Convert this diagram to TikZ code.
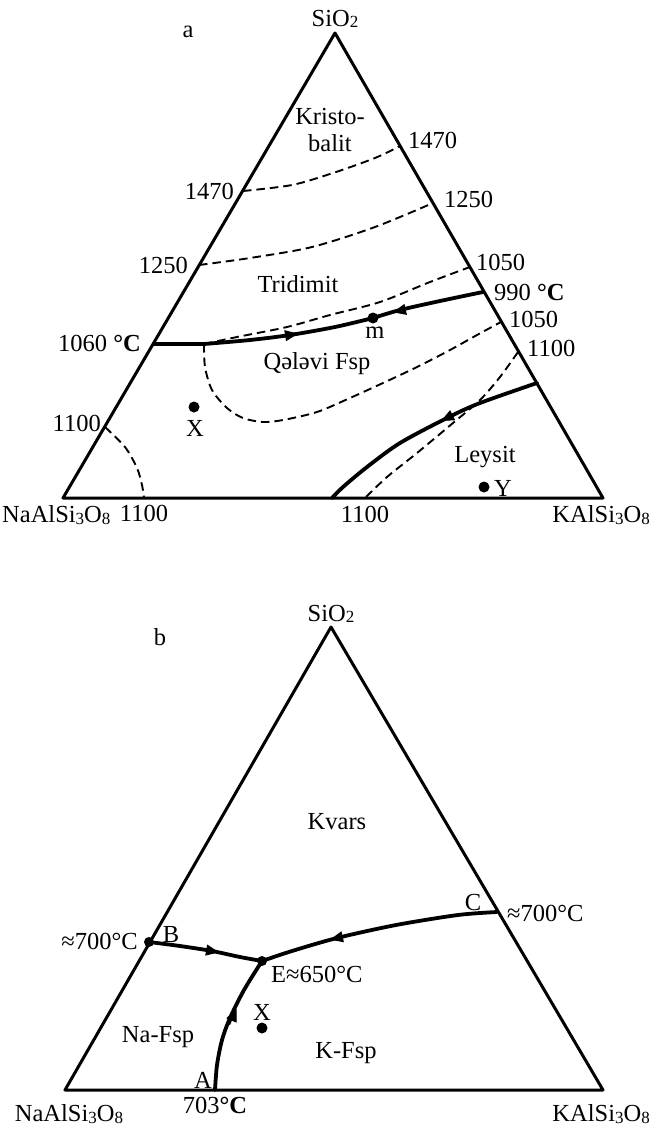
\documentclass[tikz,border=0pt]{standalone}
\usepackage{fontspec}
\setmainfont{Liberation Serif}
\usetikzlibrary{arrows.meta}
\newcommand\lowsub[1]{\raisebox{-1.5pt}{\fontsize{17}{17}\selectfont #1}}
\newcommand\degC{\textbf{°C}}
\tikzset{
  tri/.style={line width=3pt, line join=round},
  bound/.style={line width=3.8pt, line cap=round, line join=round},
  dsh/.style={line width=1.9pt, dash pattern=on 8.5pt off 5pt},
  lbl/.style={inner sep=0pt, font=\fontsize{24.5}{27}\selectfont},
  dot/.style={circle, fill=black, inner sep=0pt, minimum size=11pt},
  sdot/.style={circle, fill=black, inner sep=0pt, minimum size=10pt},
  midarrow/.style={line width=1pt, -{Triangle[length=13pt,width=11pt]}},
}
\begin{document}
\begin{tikzpicture}[x=1pt,y=-1pt]
\useasboundingbox (0,0) rectangle (651,1127);
% ================= diagram a =================
\coordinate (Ta) at (335,33);
\coordinate (La) at (63,498);
\coordinate (Ra) at (603,498);
\draw[tri] (Ta) -- (La) -- (Ra) -- cycle;
% points on the sides
\coordinate (p1470L) at (243,191);
\coordinate (p1470R) at (400,146);
\coordinate (p1250L) at (199,265);
\coordinate (p1250R) at (433,203);
\coordinate (p1050R) at (470,267);
\coordinate (p990) at (483,292);
\coordinate (p1060) at (154,344);
\coordinate (J) at (204,344);
\coordinate (p1050Rb) at (501,322);
\coordinate (p1100R) at (518,352);
\coordinate (pLeyR) at (537,383);
\coordinate (p1100L) at (105,427);
\coordinate (b1100L) at (144,498);
\coordinate (bLey) at (332,498);
\coordinate (b1100R) at (365,498);
\node[dot] (m) at (373,318) {};
% dashed isotherms
\draw[dsh] plot[smooth] coordinates {(p1470L) (292,185) (333,173) (375,158) (p1470R)};
\draw[dsh] plot[smooth] coordinates {(p1250L) (250,258) (312,247) (375,227) (p1250R)};
\draw[dsh] plot[smooth] coordinates {(J) (237,337) (287,327) (330,315) (380,302) (430,282) (p1050R)};
\draw[dsh] plot[smooth] coordinates {(J) (205,367) (212,390) (227,408) (243,418) (263,422) (283,420) (317,412) (350,398) (383,383) (417,367) (450,350) (477,335) (p1050Rb)};
\draw[dsh] plot[smooth] coordinates {(p1100L) (125,447) (137,468) (142,485) (b1100L)};
\draw[dsh] plot[smooth] coordinates {(p1100R) (500,377) (480,400) (453,423) (417,453) (387,477) (b1100R)};
% solid boundaries
\draw[bound] (p1060) -- (J);
\draw[bound] plot[smooth] coordinates {(J) (250,340) (290,335) (335,327) (m)};
\draw[bound] plot[smooth] coordinates {(p990) (440,301) (400,310) (m)};
\draw[bound] plot[smooth] coordinates {(pLeyR) (480,403) (447,418) (400,443) (367,467) (343,487) (bLey)};
% arrowheads on the boundaries
\coordinate (a1s) at (280,336.5); \coordinate (a1e) at (298,333.6);
\draw[midarrow] (a1s) -- (a1e);
\coordinate (a2s) at (411,308.2); \coordinate (a2e) at (393,312.3);
\draw[midarrow] (a2s) -- (a2e);
\coordinate (a3s) at (458,412.5); \coordinate (a3e) at (441,421);
\draw[midarrow] (a3s) -- (a3e);
% labels
\node[lbl] (alab) at (188,32) {a};
\node[lbl] (sioa) at (335,19) {SiO\lowsub{2}};
\node[lbl, align=center] (krist) at (330,130) {Kristo-\\balit};
\node[lbl, anchor=west] (t1470R) at (408,140) {1470};
\node[lbl, anchor=east] (t1470L) at (234,191) {1470};
\node[lbl, anchor=west] (t1250R) at (444,199) {1250};
\node[lbl, anchor=east] (t1250L) at (188,265) {1250};
\node[lbl, anchor=west] (t1050R) at (476,262) {1050};
\node[lbl] (trid) at (298,284) {Tridimit};
\node[lbl, anchor=west] (t990) at (494,292) {990 \degC};
\node[lbl, anchor=east] (t1060) at (141,343) {1060 \degC};
\node[lbl] (mlab) at (375,333) {m};
\node[lbl, anchor=west] (t1050Rb) at (509,319) {1050};
\node[lbl] (qfsp) at (317,364) {Qələvi Fsp};
\node[lbl, anchor=west] (t1100R) at (527,348) {1100};
\node[lbl, anchor=east] (t1100L) at (101,423) {1100};
\node[dot] (xa) at (194,407) {};
\node[lbl] (xalab) at (195,428) {X};
\node[lbl] (leys) at (485,457) {Leysit};
\node[dot] (ya) at (484,487) {};
\node[lbl] (yalab) at (503,488) {Y};
\node[lbl] (t1100B1) at (144,513) {1100};
\node[lbl] (t1100B2) at (365,514) {1100};
\node[lbl, anchor=west] (naa) at (2,515) {NaAlSi\lowsub{3}O\lowsub{8}};
\node[lbl, anchor=east] (ka) at (650,515) {KAlSi\lowsub{3}O\lowsub{8}};
% ================= diagram b =================
\coordinate (Tb) at (331,627);
\coordinate (Lb) at (65,1090);
\coordinate (Rb) at (603,1090);
\draw[tri] (Tb) -- (Lb) -- (Rb) -- cycle;
\node[sdot] (B) at (149,942) {};
\node[sdot] (E) at (262,961) {};
\coordinate (C) at (497,912);
\coordinate (A) at (215,1090);
\draw[bound] plot[smooth] coordinates {(B) (180,946) (212,951) (240,957) (E)};
\draw[bound] plot[smooth] coordinates {(C) (458,915) (396,925) (337,938) (292,951) (E)};
\draw[bound] plot[smooth] coordinates {(A) (217,1065) (222,1040) (230,1018) (244,990) (E)};
\coordinate (b1s) at (203,949.5); \coordinate (b1e) at (219,952.3);
\draw[midarrow] (b1s) -- (b1e);
\coordinate (b2s) at (348,935.6); \coordinate (b2e) at (330,939.6);
\draw[midarrow] (b2s) -- (b2e);
\coordinate (b3s) at (229.5,1025); \coordinate (b3e) at (236.5,1008.5);
\draw[midarrow] (b3s) -- (b3e);
\node[lbl] (blab) at (160,637) {b};
\node[lbl] (siob) at (331,614) {SiO\lowsub{2}};
\node[lbl] (kvars) at (337,822) {Kvars};
\node[lbl, anchor=east] (tB) at (138,941) {≈700°C};
\node[lbl] (Blab) at (171,935) {B};
\node[lbl, anchor=west] (tE) at (271,974) {E≈650°C};
\node[lbl] (Clab) at (473,902) {C};
\node[lbl, anchor=west] (tC) at (507,913) {≈700°C};
\node[lbl] (xblab) at (262,1012) {X};
\node[dot] (xb) at (262,1028) {};
\node[lbl] (nafsp) at (158,1037) {Na-Fsp};
\node[lbl] (kfsp) at (346,1053) {K-Fsp};
\node[lbl] (Alab) at (203,1080) {A};
\node[lbl] (t703) at (215,1105) {703\degC};
\node[lbl] (nab) at (69,1114) {NaAlSi\lowsub{3}O\lowsub{8}};
\node[lbl, anchor=east] (kb) at (650,1114) {KAlSi\lowsub{3}O\lowsub{8}};
\end{tikzpicture}
\end{document}
